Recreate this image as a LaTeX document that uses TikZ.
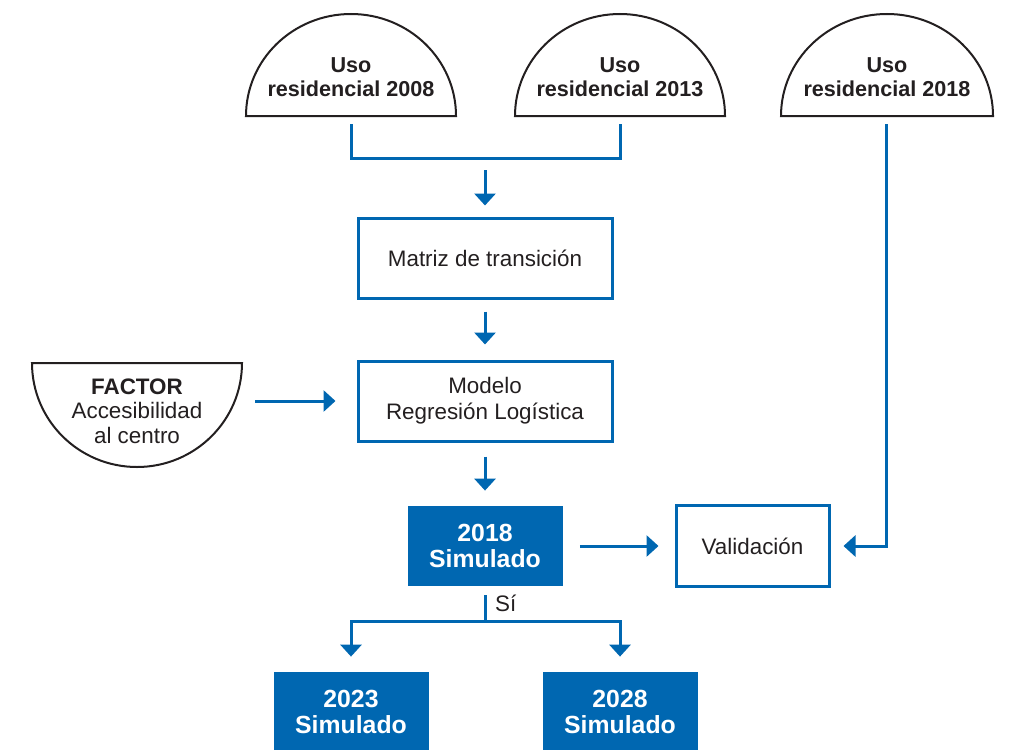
\documentclass[tikz,border=0pt]{standalone}
\usepackage{fontspec}
\setmainfont{Liberation Sans}
\usetikzlibrary{arrows.meta,positioning}
\definecolor{mapblue}{HTML}{0067B1}
\definecolor{inkgray}{HTML}{231F20}

\begin{document}
\begin{tikzpicture}
[x=0.5pt, y=0.5pt,
half/.style={draw=inkgray, line width=1pt, fill=white},
halftext/.style={align=center, text=inkgray, font=\fontsize{10.8}{12}\selectfont\bfseries},
factortext/.style={align=center, text=inkgray, font=\fontsize{11.2}{12.3}\selectfont},
box/.style={rectangle, draw=mapblue, line width=1.5pt, minimum width=127pt, minimum height=40pt, align=center, text=inkgray, font=\fontsize{11.2}{13}\selectfont},
simbox/.style={rectangle, fill=mapblue, text=white, minimum width=77.5pt, minimum height=40pt, align=center, font=\fontsize{12.4}{13.2}\selectfont\bfseries},
flow/.style={draw=mapblue, line width=1.5pt},
arr/.style={flow, -{Triangle[length=6pt,width=10.5pt]}},
]
\useasboundingbox (0,0) rectangle (1010,-749);

% half discs
\draw[half] (246,-116) arc[start angle=180, end angle=0, x radius=105, y radius=102] -- cycle;
\draw[half] (515,-116) arc[start angle=180, end angle=0, x radius=105, y radius=102] -- cycle;
\draw[half] (781,-116) arc[start angle=180, end angle=0, x radius=106, y radius=102] -- cycle;
\draw[half] (32,-363) arc[start angle=180, end angle=360, x radius=105, y radius=104] -- cycle;

\node[halftext] (u08) at (351,-77) {Uso\\residencial 2008};
\node[halftext] (u13) at (620,-77) {Uso\\residencial 2013};
\node[halftext] (u18) at (887,-77) {Uso\\residencial 2018};
\node[factortext] (factor) at (137,-411) {\textbf{FACTOR}\\Accesibilidad\\al centro};

\coordinate (u08b) at (351,-124);
\coordinate (u13b) at (620,-124);
\coordinate (u18b) at (886,-124);
\coordinate (join) at (485,-158);
\coordinate (facR) at (255,-401);
\coordinate (split) at (485,-621);

% boxes
\node[box] (matriz) at (485,-258) {Matriz de transición};
\node[box] (modelo) at (485,-401) {Modelo\\Regresión Logística};
\node[simbox] (sim18) at (485,-546) {2018\\Simulado};
\node[box, minimum width=76.5pt, minimum height=40.5pt] (valid) at (752.5,-546) {Validación};
\node[simbox] (sim23) at (351,-712) {2023\\Simulado};
\node[simbox] (sim28) at (620,-712) {2028\\Simulado};

% connectors
\draw[flow] (u08b) |- (join) -| (u13b);
\draw[arr, shorten <=6pt, shorten >=5.5pt] (join) -- (matriz);
\draw[arr, shorten <=6pt, shorten >=7.5pt] (matriz) -- (modelo);
\draw[arr, shorten >=10.5pt] (facR) -- (modelo);
\draw[arr, shorten <=7pt, shorten >=7.5pt] (modelo) -- (sim18);
\draw[arr, shorten <=8.5pt, shorten >=8pt] (sim18) -- (valid);
\draw[arr, shorten >=6.5pt] (u18b) |- (valid);
\draw[flow, shorten <=4.5pt] (sim18) -- (split)
  node[midway, right, xshift=1pt, text=inkgray, font=\fontsize{11.2}{13}\selectfont] {Sí};
\draw[arr, shorten >=7.5pt] (split) -| (sim23);
\draw[arr, shorten >=7.5pt] (split) -| (sim28);
\end{tikzpicture}
\end{document}
